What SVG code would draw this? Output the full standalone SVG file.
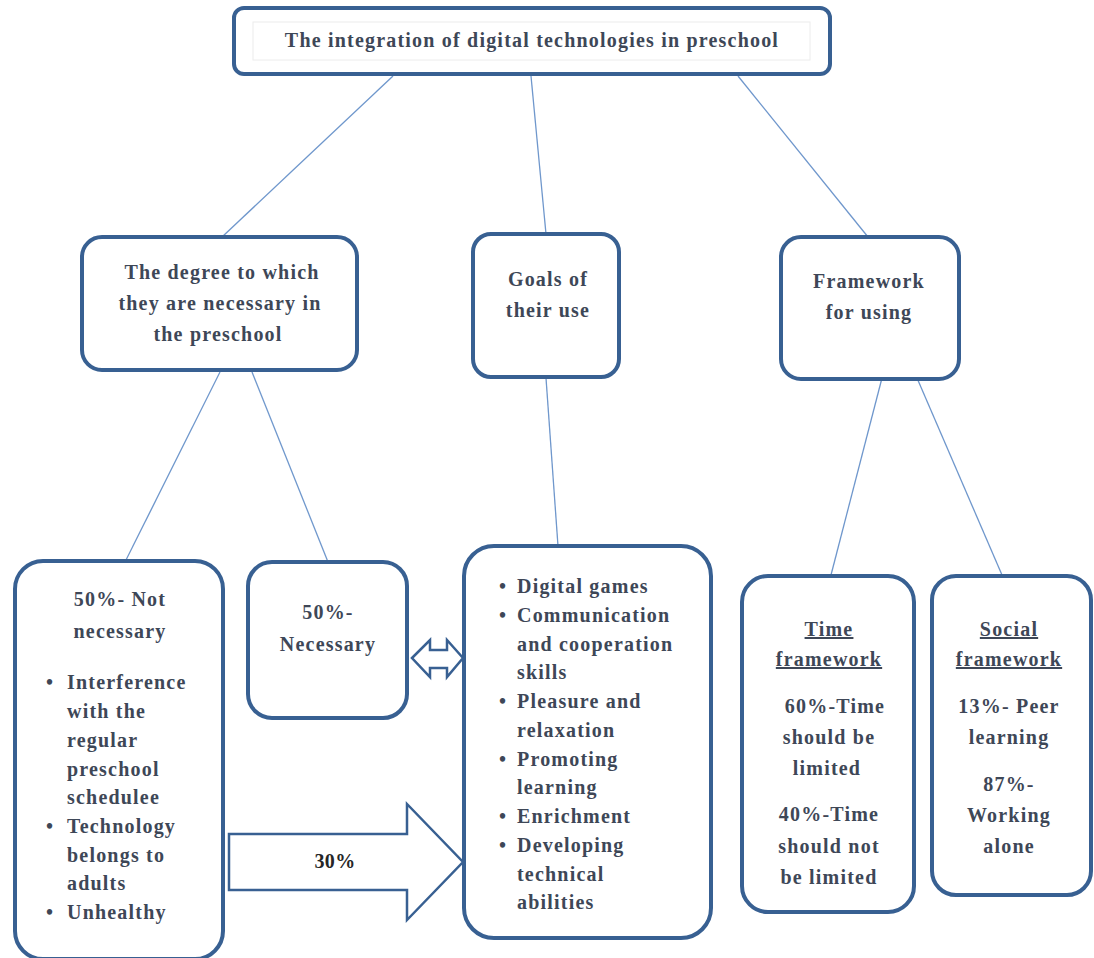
<svg xmlns="http://www.w3.org/2000/svg" width="1094" height="958" viewBox="0 0 1094 958">
<style>
.box{fill:#fff;stroke:#386092;stroke-width:4}
.ln{stroke:#6f97cc;stroke-width:1.3;fill:none}
.t{font-family:"Liberation Serif","DejaVu Serif",serif;font-weight:bold;font-size:20px;fill:#3e4757;letter-spacing:1.2px}
.c{text-anchor:middle}
.u{text-decoration:underline}
.ar{fill:#fff;stroke:#386092;stroke-width:2.5}
</style>
<rect width="1094" height="958" fill="#fff"/>
<g id="connectors">
<line class="ln" x1="393" y1="76" x2="222" y2="237"/>
<line class="ln" x1="531" y1="76" x2="546" y2="234"/>
<line class="ln" x1="738" y1="76" x2="868" y2="237"/>
<line class="ln" x1="220" y1="372" x2="126" y2="560"/>
<line class="ln" x1="252" y1="372" x2="328" y2="562"/>
<line class="ln" x1="546" y1="378" x2="558" y2="546"/>
<line class="ln" x1="882" y1="378" x2="831" y2="575"/>
<line class="ln" x1="917" y1="378" x2="1002" y2="575"/>
<polygon class="ar" points="412,658 430,640 430,650 447,650 447,640 463,658 447,677 447,668 430,668 430,677"/>
<polygon class="ar" points="229,834 407,834 407,804 463,862 407,920 407,890 229,890"/>
<text class="t c" x="335" y="868" style="fill:#262626;letter-spacing:0.3px">30%</text>
</g>
<g id="top">
<rect class="box" x="234" y="8" width="596" height="66" rx="10"/>
<rect x="253" y="22" width="557" height="38" fill="none" stroke="#ececec" stroke-width="1"/>
<text class="t c" x="532" y="47">The integration of digital technologies in preschool</text>
</g>
<g id="degree">
<rect class="box" x="82" y="237" width="275" height="133" rx="20"/>
<text class="t c" x="222" y="279">The degree to which</text>
<text class="t c" x="220" y="310">they are necessary in</text>
<text class="t c" x="218" y="341">the preschool</text>
</g>
<g id="goals">
<rect class="box" x="473" y="234" width="146" height="143" rx="18"/>
<text class="t c" x="548" y="286">Goals of</text>
<text class="t c" x="548" y="317">their use</text>
</g>
<g id="framework">
<rect class="box" x="781" y="237" width="178" height="142" rx="20"/>
<text class="t c" x="869" y="288">Framework</text>
<text class="t c" x="869" y="319">for using</text>
</g>
<g id="notnecessary">
<rect class="box" x="15" y="561" width="208" height="398" rx="28"/>
<text class="t c" x="120" y="606">50%- Not</text>
<text class="t c" x="120" y="638">necessary</text>
<g class="t">
<text x="46" y="689">•</text><text x="67" y="689">Interference</text>
<text x="67" y="718">with the</text>
<text x="67" y="747">regular</text>
<text x="67" y="776">preschool</text>
<text x="67" y="804">schedulee</text>
<text x="46" y="833">•</text><text x="67" y="833">Technology</text>
<text x="67" y="862">belongs to</text>
<text x="67" y="890">adults</text>
<text x="46" y="919">•</text><text x="67" y="919">Unhealthy</text>
</g>
</g>
<g id="necessary">
<rect class="box" x="248" y="562" width="159" height="156" rx="24"/>
<text class="t c" x="328" y="619">50%-</text>
<text class="t c" x="328" y="651">Necessary</text>
</g>
<g id="goalslist">
<rect class="box" x="464" y="546" width="247" height="392" rx="30"/>
<g class="t">
<text x="499" y="593">•</text><text x="517" y="593">Digital games</text>
<text x="499" y="622">•</text><text x="517" y="622">Communication</text>
<text x="517" y="651">and cooperation</text>
<text x="517" y="679">skills</text>
<text x="499" y="708">•</text><text x="517" y="708">Pleasure and</text>
<text x="517" y="737">relaxation</text>
<text x="499" y="766">•</text><text x="517" y="766">Promoting</text>
<text x="517" y="794">learning</text>
<text x="499" y="823">•</text><text x="517" y="823">Enrichment</text>
<text x="499" y="852">•</text><text x="517" y="852">Developing</text>
<text x="517" y="881">technical</text>
<text x="517" y="909">abilities</text>
</g>
</g>
<g id="time">
<rect class="box" x="742" y="576" width="172" height="336" rx="26"/>
<text class="t c u" x="829" y="636">Time </text>
<text class="t c u" x="829" y="666">framework</text>
<text class="t c" x="835" y="713">60%-Time</text>
<text class="t c" x="829" y="744">should be</text>
<text class="t c" x="827" y="775">limited</text>
<text class="t c" x="829" y="821">40%-Time</text>
<text class="t c" x="829" y="853">should not</text>
<text class="t c" x="829" y="884">be limited</text>
</g>
<g id="social">
<rect class="box" x="932" y="576" width="159" height="319" rx="24"/>
<text class="t c u" x="1009" y="636">Social </text>
<text class="t c u" x="1009" y="666">framework</text>
<text class="t c" x="1009" y="713">13%- Peer</text>
<text class="t c" x="1009" y="744">learning</text>
<text class="t c" x="1009" y="791">87%-</text>
<text class="t c" x="1009" y="822">Working</text>
<text class="t c" x="1009" y="853">alone</text>
</g>
</svg>
